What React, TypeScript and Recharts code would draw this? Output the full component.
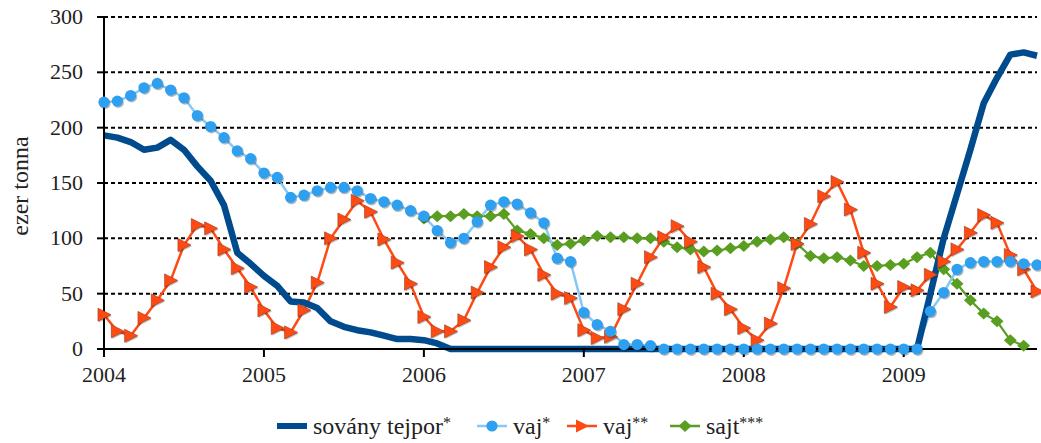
import { CartesianGrid, Line, LineChart, XAxis, YAxis } from "recharts";

// monthly values, Jan 2004 .. Nov 2009 (index 0 = Jan 2004)
const yearLabels = ["2004", "2005", "2006", "2007", "2008", "2009"];
const yearTicks = [0, 12, 24, 36, 48, 60];

const sovanyTejpor = [
  193, 191, 187, 180, 182, 189, 180, 165, 152, 130, 87, 77,
  66, 57, 43, 42, 37, 25, 20, 17, 15, 12, 9, 9,
  8, 5, 0, 0, 0, 0, 0, 0, 0, 0, 0, 0,
  0, 0, 0, 0, 0, 0, 0, 0, 0, 0, 0, 0,
  0, 0, 0, 0, 0, 0, 0, 0, 0, 0, 0, 0,
  0, 0, 50, 100, 140, 180, 222, 245, 266, 268, 265,
];

const vaj1 = [
  223, 224, 229, 236, 240, 234, 227, 211, 201, 191, 179, 172,
  159, 155, 137, 139, 143, 146, 146, 143, 136, 133, 130, 125,
  120, 107, 96, 100, 115, 130, 133, 131, 123, 114, 82, 79,
  33, 22, 16, 4, 4, 3, 0, 0, 0, 0, 0, 0,
  0, 0, 0, 0, 0, 0, 0, 0, 0, 0, 0, 0,
  0, 0, 34, 51, 72, 78, 79, 79, 79, 77, 76,
];

const vaj2 = [
  31, 16, 12, 28, 44, 62, 94, 112, 109, 90, 73, 56,
  35, 19, 15, 35, 60, 100, 117, 134, 124, 99, 78, 59,
  29, 16, 16, 26, 51, 74, 92, 102, 90, 67, 50, 46,
  17, 10, 11, 36, 59, 83, 101, 111, 97, 74, 50, 36,
  19, 8, 23, 55, 95, 113, 138, 151, 126, 87, 59, 38,
  56, 53, 67, 79, 90, 105, 121, 114, 85, 72, 52,
];

const sajt = [
  null, null, null, null, null, null, null, null, null, null, null, null,
  null, null, null, null, null, null, null, null, null, null, null, null,
  118, 120, 120, 122, 120, 120, 122, 107, 104, 100, 94, 95,
  98, 102, 101, 101, 100, 100, 97, 92, 90, 88, 89, 91,
  93, 97, 99, 101, 95, 84, 82, 83, 80, 75, 75, 76,
  77, 83, 87, 72, 59, 44, 32, 25, 8, 3, null,
];

const data = sovanyTejpor.map((v, i) => ({
  m: i,
  sovany: v,
  vaj1: vaj1[i],
  vaj2: vaj2[i],
  sajt: sajt[i],
}));

const FONT = "Liberation Serif";
const TEXT = "#222";
const C_SOVANY = "#004b8d";
const C_VAJ1_LINE = "#86c8f5";
const C_VAJ1_DOT = "#2fa0ef";
const C_VAJ2 = "#ff4a14";
const C_SAJT = "#5a9e21";

function CircleDot(props: any) {
  const { cx, cy, index } = props;
  if (cx == null || cy == null) return <g key={index} />;
  return (
    <g key={index}>
      <circle cx={cx + 1} cy={cy + 1.3} r={5.6} fill="rgba(0,0,0,0.28)" />
      <circle cx={cx} cy={cy} r={5.6} fill={C_VAJ1_DOT} />
    </g>
  );
}

function TriDot(props: any) {
  const { cx, cy, index } = props;
  if (cx == null || cy == null) return <g key={index} />;
  const pts = (dx: number, dy: number) =>
    `${cx - 6 + dx},${cy - 6.5 + dy} ${cx + 7 + dx},${cy + dy} ${cx - 6 + dx},${cy + 6.5 + dy}`;
  return (
    <g key={index}>
      <polygon points={pts(1, 1.3)} fill="rgba(0,0,0,0.25)" />
      <polygon points={pts(0, 0)} fill={C_VAJ2} stroke="#a8401e" strokeWidth={0.7} />
    </g>
  );
}

function DiamondDot(props: any) {
  const { cx, cy, index } = props;
  if (cx == null || cy == null) return <g key={index} />;
  return (
    <g key={index}>
      <polygon
        points={`${cx},${cy - 6} ${cx + 6.5},${cy} ${cx},${cy + 6} ${cx - 6.5},${cy}`}
        fill={C_SAJT}
      />
    </g>
  );
}

function XTick(props: any) {
  const { x, y, payload } = props;
  return (
    <text
      x={x}
      y={y + 23}
      textAnchor="middle"
      fontSize={22}
      fill={TEXT}
      style={{ fontFamily: FONT }}
    >
      {yearLabels[yearTicks.indexOf(payload.value)] ?? ""}
    </text>
  );
}

function YTick(props: any) {
  const { x, y, payload } = props;
  return (
    <text
      x={x}
      y={y + 7}
      textAnchor="end"
      fontSize={22}
      fill={TEXT}
      style={{ fontFamily: FONT }}
    >
      {payload.value}
    </text>
  );
}

function Star({ n }: { n: number }) {
  return (
    <span style={{ fontSize: 16, position: "relative", top: -6 }}>{"*".repeat(n)}</span>
  );
}

function LegendItem({ left, icon, children }: { left: number; icon: any; children: any }) {
  return (
    <div
      style={{
        position: "absolute",
        left,
        top: 0,
        height: 30,
        display: "flex",
        alignItems: "center",
        whiteSpace: "nowrap",
      }}
    >
      {icon}
      <span style={{ marginLeft: 6, fontFamily: FONT }}>{children}</span>
    </div>
  );
}

function ChartLegend() {
  return (
    <div
      style={{
        position: "absolute",
        left: 0,
        top: 411,
        width: 1041,
        height: 30,
        fontFamily: FONT,
        fontSize: 24,
        color: TEXT,
      }}
    >
      <LegendItem
        left={277}
        icon={
          <svg width={30} height={14}>
            <rect x={0} y={4} width={30} height={6} fill={C_SOVANY} />
          </svg>
        }
      >
        sovány tejpor<Star n={1} />
      </LegendItem>
      <LegendItem
        left={477}
        icon={
          <svg width={30} height={14}>
            <line x1={0} y1={7} x2={30} y2={7} stroke={C_VAJ1_LINE} strokeWidth={2.5} />
            <circle cx={15} cy={7} r={5.6} fill={C_VAJ1_DOT} />
          </svg>
        }
      >
        vaj<Star n={1} />
      </LegendItem>
      <LegendItem
        left={567}
        icon={
          <svg width={30} height={14}>
            <line x1={0} y1={7} x2={30} y2={7} stroke={C_VAJ2} strokeWidth={2.5} />
            <polygon points="9,0.5 22,7 9,13.5" fill={C_VAJ2} />
          </svg>
        }
      >
        vaj<Star n={2} />
      </LegendItem>
      <LegendItem
        left={670}
        icon={
          <svg width={30} height={14}>
            <line x1={0} y1={7} x2={30} y2={7} stroke={C_SAJT} strokeWidth={2.5} />
            <polygon points="15,1 21.5,7 15,13 8.5,7" fill={C_SAJT} />
          </svg>
        }
      >
        sajt<Star n={3} />
      </LegendItem>
    </div>
  );
}

export default function App() {
  return (
    <div
      style={{
        position: "absolute",
        left: 0,
        top: 0,
        width: 1041,
        height: 443,
        background: "#fff",
        fontFamily: FONT,
      }}
    >
      <LineChart
        width={1041}
        height={443}
        data={data}
        margin={{ top: 17, right: 4, bottom: 54, left: 0 }}
      >
        <CartesianGrid
          horizontal
          vertical={false}
          stroke="#000"
          strokeWidth={2}
          strokeDasharray="4 3"
        />
        <XAxis
          dataKey="m"
          type="number"
          domain={[0, 70]}
          ticks={yearTicks}
          height={40}
          axisLine={{ stroke: "#000", strokeWidth: 2 }}
          tickLine={{ stroke: "#000", strokeWidth: 2 }}
          tickSize={8}
          tickMargin={2}
          tick={XTick}
        />
        <YAxis
          type="number"
          domain={[0, 300]}
          ticks={[0, 50, 100, 150, 200, 250, 300]}
          width={104}
          axisLine={{ stroke: "#000", strokeWidth: 2 }}
          tickLine={{ stroke: "#000", strokeWidth: 2 }}
          tickSize={7}
          tickMargin={14}
          tick={YTick}
          label={{
            content: () => (
              <text
                x={20}
                y={186}
                transform="rotate(-90 20 186)"
                textAnchor="middle"
                dominantBaseline="central"
                fontSize={24}
                fill={TEXT}
                style={{ fontFamily: FONT }}
              >
                ezer tonna
              </text>
            ),
          }}
        />
        <Line
          dataKey="sajt"
          stroke={C_SAJT}
          strokeWidth={2.2}
          dot={DiamondDot}
          activeDot={false}
          connectNulls={false}
          isAnimationActive={false}
        />
        <Line
          dataKey="vaj2"
          stroke={C_VAJ2}
          strokeWidth={2.5}
          dot={TriDot}
          activeDot={false}
          isAnimationActive={false}
        />
        <Line
          dataKey="vaj1"
          stroke={C_VAJ1_LINE}
          strokeWidth={2.5}
          dot={CircleDot}
          activeDot={false}
          isAnimationActive={false}
        />
        <Line
          dataKey="sovany"
          stroke={C_SOVANY}
          strokeWidth={6.5}
          strokeLinejoin="round"
          dot={false}
          activeDot={false}
          isAnimationActive={false}
        />
      </LineChart>
      <ChartLegend />
    </div>
  );
}
